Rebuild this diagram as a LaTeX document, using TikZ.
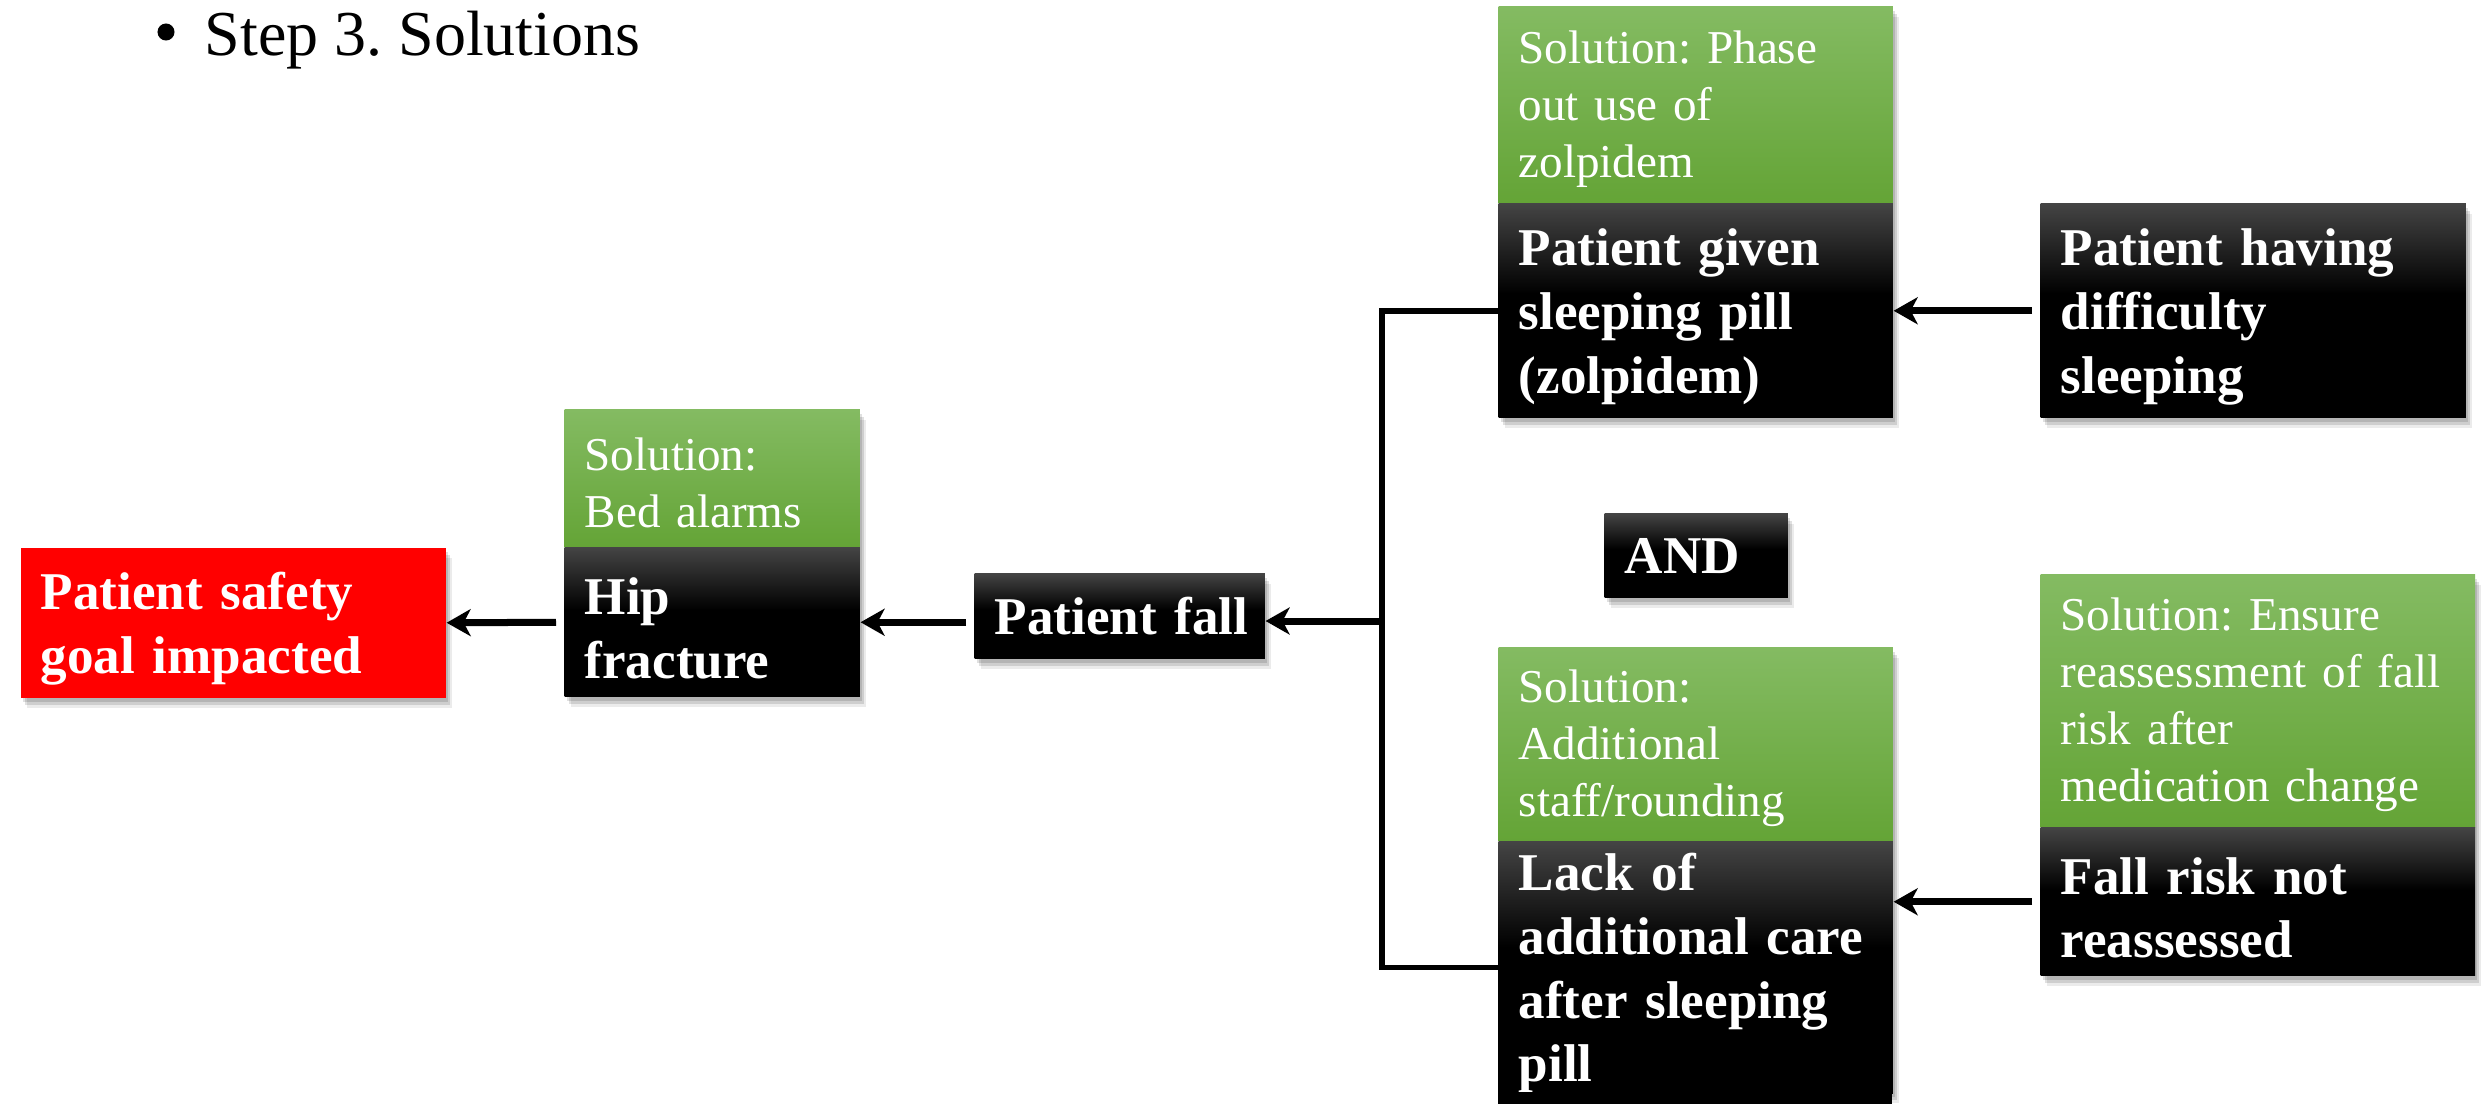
\documentclass[tikz,border=0pt]{standalone}
\usepackage{fontspec}
\setmainfont{Liberation Serif}
\usetikzlibrary{arrows.meta,shadows}
\frenchspacing

\definecolor{bgtop}{RGB}{68,68,68}
\definecolor{greentop}{RGB}{132,187,98}
\definecolor{greenbot}{RGB}{100,164,54}
\pgfdeclareverticalshading{blackfade}{100bp}{color(0bp)=(black); color(25bp)=(black); color(54bp)=(black); color(75bp)=(bgtop); color(100bp)=(bgtop)}

% first-line struts that set the text a little lower in the boxes
\newcommand{\boldlead}{\rule{0pt}{0.49cm}}
\newcommand{\plainlead}{\rule{0pt}{0.40cm}}

\tikzset{
  softshadow/.style={
    drop shadow={shadow xshift=0.02cm, shadow yshift=-0.04cm, opacity=0.12, fill=black},
    drop shadow={shadow xshift=0.04cm, shadow yshift=-0.07cm, opacity=0.12, fill=black},
    drop shadow={shadow xshift=0.06cm, shadow yshift=-0.10cm, opacity=0.08, fill=black}},
  boxbase/.style={anchor=north west, inner xsep=0.2cm, inner ysep=0pt, align=left,
    text=white, softshadow},
  causebox/.style={boxbase, shading=blackfade,
    font=\bfseries\fontsize{15.1}{18.1}\selectfont},
  goalbox/.style={boxbase, fill=red,
    font=\bfseries\fontsize{15.1}{18.1}\selectfont},
  fixbox/.style={boxbase, top color=greentop, bottom color=greenbot,
    font=\fontsize{13.4}{16.2}\selectfont},
  link/.style={line width=0.055cm},
  arr/.style={line width=0.07cm, -{Stealth[length=0.24cm, width=0.27cm, inset=0.07cm]}},
  gap/.style={shorten <=0.08cm}
}

\begin{document}
\begin{tikzpicture}[x=0.01cm, y=-0.01cm]
\useasboundingbox[fill=white] (0,0) rectangle (2483,1103);

% heading
\node[circle, fill=black, inner sep=0pt, minimum size=0.17cm] (bullet) at (166,32) {};
\node[anchor=base west, inner sep=0pt, font=\fontsize{18.2}{22}\selectfont] (title) at (204,55) {Step 3. Solutions};

% left chain
\node[goalbox, minimum width=4.25cm, minimum height=1.50cm, text width=3.85cm] (goal) at (20,547)
  {\boldlead Patient safety\\goal impacted};
\node[fixbox, minimum width=2.95cm, minimum height=1.38cm, text width=2.55cm] (hipfix) at (564,409)
  {\plainlead Solution:\\Bed alarms};
\node[causebox, minimum width=2.95cm, minimum height=1.49cm, text width=2.55cm] (hip) at (564,547)
  {\boldlead Hip\\fracture};
\node[causebox, minimum width=2.90cm, minimum height=0.85cm, text width=2.50cm] (fall) at (974,573)
  {Patient~fall};

% upper branch
\node[fixbox, minimum width=3.94cm, minimum height=1.97cm, text width=3.54cm] (pillfix) at (1498,6)
  {\plainlead Solution: Phase\\out use of\\zolpidem};
\node[causebox, minimum width=3.94cm, minimum height=2.14cm, text width=3.54cm] (pill) at (1498,203)
  {\boldlead Patient given\\sleeping pill\\(zolpidem)};
\node[causebox, minimum width=4.25cm, minimum height=2.14cm, text width=3.85cm] (sleep) at (2040,203)
  {\boldlead Patient having\\difficulty\\sleeping};

\node[causebox, minimum width=1.83cm, minimum height=0.84cm, text width=1.43cm] (and) at (1604,513)
  {AND};

% lower branch
\node[fixbox, minimum width=3.94cm, minimum height=1.94cm, text width=3.54cm] (carefix) at (1498,647)
  {\plainlead Solution:\\Additional\\staff/rounding};
\node[causebox, minimum width=3.94cm, minimum height=2.46cm, text width=3.54cm] (care) at (1498,841)
  {\boldlead Lack of\\additional care\\after sleeping\\pill};
\fill[black] ([yshift=0.02cm]care.south west) rectangle ++(394,40);
\node[fixbox, minimum width=4.34cm, minimum height=2.53cm, text width=3.94cm] (riskfix) at (2040,574)
  {\plainlead Solution: Ensure\\reassessment of fall\\risk after\\medication change};
\node[causebox, minimum width=4.34cm, minimum height=1.48cm, text width=3.94cm] (risk) at (2040,827)
  {\boldlead Fall risk not\\reassessed};

% connectors
\coordinate (join) at (1382,621);
\draw[link] (pill.west) -| (join) |- (care.west);
\draw[arr] (join) -- (join -| fall.east);
\draw[arr, gap] (hip.east -| fall.west) -- (hip.east);
\draw[arr, gap] (hip.west) -- (goal.east);
\draw[arr, gap] (sleep.west) -- (pill.east);
\draw[arr, gap] (risk.west) -- (risk.west -| care.east);
\end{tikzpicture}
\end{document}
